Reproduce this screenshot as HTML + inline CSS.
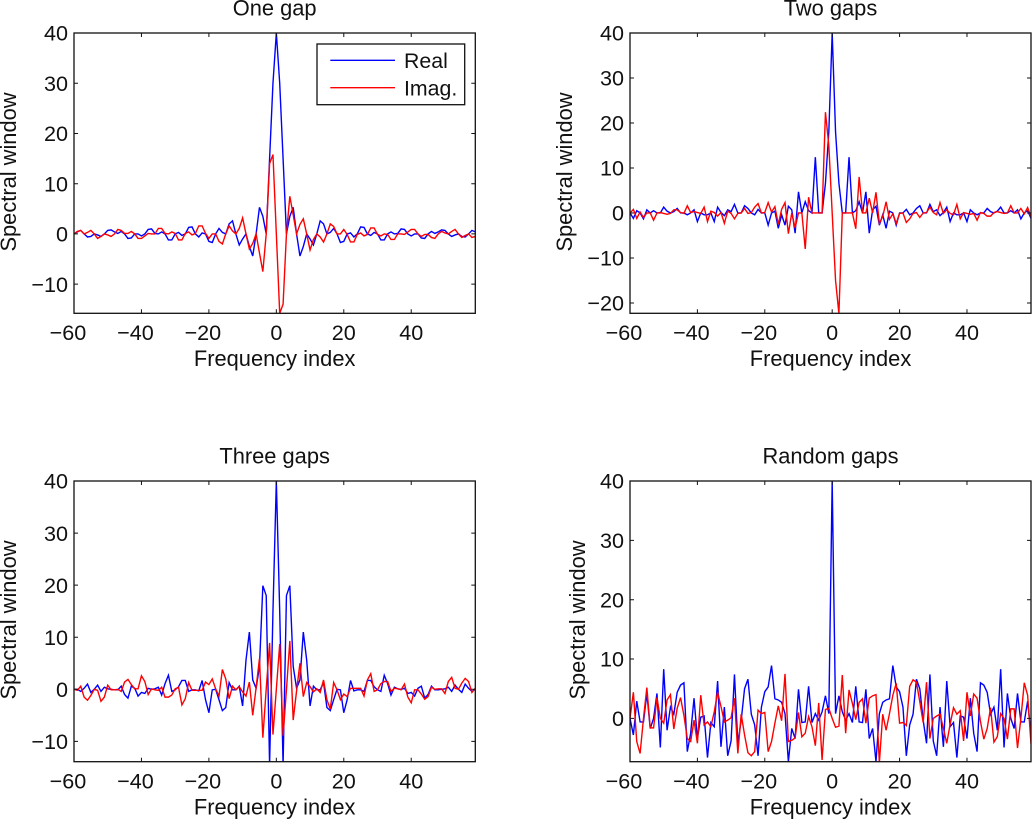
<!DOCTYPE html>
<html lang="en">
<head>
<meta charset="utf-8">
<title>Spectral window charts</title>
<style>
html,body{margin:0;padding:0;background:#fff;}
#chart{display:block;width:1032px;height:819px;overflow:hidden;}
text{font-family:"Liberation Sans",Arial,sans-serif;font-size:21.6px;fill:#111;}
text.axis-title{font-size:21.85px;}
text.legend-text{font-size:21.3px;}
</style>
</head>
<body>
<svg id="chart" xmlns="http://www.w3.org/2000/svg" width="1032" height="819" viewBox="0 0 1032 819"></svg>
<script>
var xTickValues = [-60,-40,-20,0,20,40];
var yTicksOne = [-10,0,10,20,30,40];
var yTicksTwo = [-20,-10,0,10,20,30,40];
var yTicksThree = [-10,0,10,20,30,40];
var yTicksRandom = [0,10,20,30,40];

var realOne = [0,.4,.7,0,-.6,-.5,0,-.2,-.5,0,.7,.8,.4,.1,.5,0,-.9,-.8,0,0,-.4,0,.9,1,.1,0,.4,0,-1.2,-1.2,0,.3,-.3,0,1.3,1.4,0,-.6,.2,0,-1.5,-1.7,0,1.1,.3,0,2,2.6,0,-2.2,-1,0,-2.5,-4.4,0,5.3,3.5,0,15,30,40,30,15,0,3.5,5.3,0,-4.4,-2.5,0,-1,-2.2,0,2.6,2,0,.3,1.1,0,-1.7,-1.5,0,.2,-.6,0,1.4,1.3,0,-.3,.3,0,-1.2,-1.2,0,.4,0,.1,1,.9,0,-.4,0,0,-.8,-.9,0,.5,.1,.4,.8,.7,0,-.5,-.2,0,-.5,-.6,0,.7,.4];
var imagOne = [0,.5,.7,0,.3,.7,0,-.9,-.5,0,-.2,-.5,0,.9,.7,.1,.1,.5,0,-.9,-.9,-.4,.1,0,0,1.1,1.1,.1,0,.4,.1,-1.2,-1.2,.1,.4,-.2,.1,1.6,1.6,.1,-.9,0,0,-1.5,-2,0,1.6,.6,0,1.1,3.2,0,-3,-1.9,0,-3.8,-7.5,0,14,15.8,0,-15.8,-14,0,7.5,3.8,0,1.9,3,0,-3.2,-1.1,0,-.6,-1.6,0,2,1.5,0,0,.9,-.1,-1.6,-1.6,-.1,.2,-.4,-.1,1.2,1.2,-.1,-.4,0,-.1,-1.1,-1.1,0,0,-.1,.4,.9,.9,0,-.5,-.1,-.1,-.7,-.9,0,.5,.2,0,.5,.9,0,-.7,-.3,0,-.7,-.5];

var realTwo = [0,-1.2,.5,0,-1.3,.7,0,.5,0,0,1.3,.4,0,.3,1,0,0,-.4,0,.7,-1.9,0,-.4,-.4,0,-1.9,1.3,.1,-.6,.7,.3,1.9,0,0,1.6,1,0,-.4,.8,0,0,-2.7,0,.4,-3.4,-.4,-2.7,1.5,.7,-4.5,4.7,0,2.5,.5,0,12.4,0,0,6.6,18,40,18,6.6,0,0,12.4,0,.5,2.5,0,4.7,-4.5,.7,1.5,-2.7,-.4,-3.4,.4,0,-2.7,0,0,.8,-.4,0,1,1.6,0,0,1.9,.3,.7,-.6,.1,1.3,-1.9,0,-.4,-.4,0,-1.9,.7,0,-.4,0,0,1,.3,0,.4,1.3,0,0,.5,0,.7,-1.3,0,.5,-1.2];
var imagTwo = [0,.8,-1.2,.2,-1,0,0,-1.6,0,.1,-.1,-.3,-.1,.7,.7,.1,-.1,1.6,.1,.3,.1,-.1,1.3,-1.9,.4,.1,-.7,.1,-2.3,.4,-.1,-1.3,-.1,0,1,-.1,.1,1.3,2.1,0,.1,2.3,.2,1.4,-2.5,.8,2.3,-4.6,0,-3.3,0,0,-8,3.5,0,0,0,0,22.4,15,0,-15,-22.4,0,0,0,0,-3.5,8,0,0,3.3,0,4.6,-2.3,-.8,2.5,-1.4,-.2,-2.3,-.1,0,-2.1,-1.3,-.1,.1,-1,0,.1,1.3,.1,-.4,2.3,-.1,.7,-.1,-.4,1.9,-1.3,.1,-.1,-.3,-.1,-1.6,.1,-.1,-.7,-.7,.1,.3,.1,-.1,0,1.6,0,0,1,-.2,1.2,-.8];

var realThree = [0,0,-.4,.2,1,-.6,0,.8,-.4,.4,.1,0,-.1,-.1,.6,-1,-1.7,.6,.2,-1.3,-.6,-.8,.2,0,.1,.4,-1.1,1.1,2.7,-.4,-.1,.5,1.7,1.7,-.4,-.1,-.1,-.3,1.7,-2,-4.5,-.1,0,-2,-4.1,-3.5,1.3,-.1,-.1,.6,-3.2,5.6,11,1.8,.2,4.4,19.9,18,-14.5,15,40,15,-14.5,18,19.9,4.4,.2,1.8,11,5.6,-3.2,.6,-.1,-.1,1.3,-3.5,-4.1,-2,0,-.1,-4.5,-2,1.7,-.3,-.1,-.1,-.4,1.7,1.7,.5,-.1,-.4,2.7,1.1,-1.1,.4,.1,0,.2,-.8,-.6,-1.3,.2,.6,-1.7,-1,.6,-.1,-.1,0,.1,.4,-.4,.8,0,-.6,1,.2,-.4,0];
var imagThree = [0,-.2,.6,-1.5,-2.1,-1.2,0,-.2,-2.3,-1.5,.8,-.1,-.1,0,-.4,1.4,1.9,.9,.1,.1,2.6,1.5,-1,.1,-.1,-.2,.4,-1.5,-1.5,-1.1,.1,.4,-3,-1.8,1.3,-.2,-.2,-.2,-.2,1.4,.9,2,.1,-1.3,3.8,2,-1.8,.6,-.1,.5,-.5,-1.3,1.4,-5,.3,5.9,-9.3,.1,8.9,-8.7,0,8.7,-8.9,-.1,9.3,-5.9,-.3,5,-1.4,1.3,.5,-.5,.1,-.6,1.8,-2,-3.8,1.3,-.1,-2,-.9,-1.4,.2,.2,.2,.2,-1.3,1.8,3,-.4,-.1,1.1,1.5,1.5,-.4,.2,.1,-.1,1,-1.5,-2.6,-.1,-.1,-.9,-1.9,-1.4,.4,0,.1,.1,-.8,1.5,2.3,.2,0,1.2,2.1,1.5,-.6,.2];

var realRandom = [0,-2.8,2.9,-.6,-.6,4.2,-1.7,0,4.2,-4.9,8.3,-2,1.9,.7,4.4,5.6,6,-5.6,-2.5,3.4,-3.4,.2,.4,-6.6,-.7,-1.4,6.3,-4.8,1.9,-6.3,-3.8,7.4,-4.2,-.3,5,6.6,.7,-1.1,-6.3,1.9,4.5,5.3,8.9,3.3,3.1,2.7,.8,-7.3,-1.7,-3.4,4.9,-.7,-.6,5.4,-.7,.8,-.3,1.1,3.8,.8,40,.8,3.8,1.1,-.3,.8,-.7,5.4,-.6,-.7,4.9,-3.4,-1.7,-7.3,.8,2.7,3.1,3.3,8.9,5.3,4.5,1.9,-6.3,-1.1,.7,6.6,5,-.3,-4.2,7.4,-3.8,-6.3,1.9,-4.8,6.3,-1.4,-.7,-6.6,.4,.2,-3.4,3.4,-2.5,-5.6,6,5.6,4.4,.7,1.9,-2,8.3,-4.9,4.2,0,-1.7,4.2,-.6,-.6,2.9,-2.8];
var imagRandom = [0,4.4,-3.9,-5.9,0,5.2,-1.6,-1.6,3.5,0,-.8,3.1,4,-1.8,1.7,3.5,.5,-3.4,-3.9,-.3,-4.2,3.9,-1.1,-.6,-1.4,1.1,4.4,2,-.6,-.3,.1,3.4,-5.9,.7,-2.8,-5.8,-6.3,-5.6,1.4,.8,1,-5.6,-3.9,-.8,2.1,-.4,7.5,-3.9,-3.7,-3.3,1,-3.1,-2.5,.3,-1.4,-4.6,2.6,-7,1.5,1.7,0,-1.5,-1.3,7.3,-2.5,4.8,2.5,-.2,2.7,3.3,-.8,3.4,3.8,4,-7.5,.7,-2,.8,3.9,5.9,-.8,-.7,-1.2,5.4,6.5,6.1,2.8,-.7,6.1,-3.4,0,.4,.7,-1.7,-4.2,-1,1.8,.7,1.3,-3.8,4.4,.4,4.1,3.4,-.5,-3.5,-1.7,1.8,-4,-3.1,.8,0,-3.5,1.6,1.6,-5,0,6,3.9,-4.3];

var panels = [
  {key:'one-gap', title:'One gap', real:realOne, imag:imagOne, yTicks:yTicksOne, left:74, right:475.3, top:33, bottom:313.3, yMin:-15.8, labelX:16, labelY:172},
  {key:'two-gaps', title:'Two gaps', real:realTwo, imag:imagTwo, yTicks:yTicksTwo, left:630, right:1031, top:33, bottom:313.3, yMin:-22.3, labelX:572, labelY:172},
  {key:'three-gaps', title:'Three gaps', real:realThree, imag:imagThree, yTicks:yTicksThree, left:74, right:475.3, top:481, bottom:761.7, yMin:-13.9, labelX:16, labelY:620},
  {key:'random-gaps', title:'Random gaps', real:realRandom, imag:imagRandom, yTicks:yTicksRandom, left:630, right:1031, top:481, bottom:761.7, yMin:-7.3, labelX:585, labelY:620}
];

var svg = document.getElementById('chart');
var NS = 'http://www.w3.org/2000/svg';

function make(tag, attrs, parent) {
  var el = document.createElementNS(NS, tag);
  for (var k in attrs) { el.setAttribute(k, attrs[k]); }
  (parent || svg).appendChild(el);
  return el;
}

function formatTick(v) {
  return v < 0 ? '\u2212' + Math.abs(v) : String(v);
}

function drawPanel(p, idx) {
  var group = make('g', {});
  
  

  var xScale = function (v) { return p.left + (v + 60) / 119 * (p.right - p.left); };
  var yScale = function (v) { return p.bottom - (v - p.yMin) / (40 - p.yMin) * (p.bottom - p.top); };

  var defs = make('defs', {}, group);
  var clip = make('clipPath', {id: 'clip-' + idx}, defs);
  make('rect', {x: p.left, y: p.top, width: p.right - p.left, height: p.bottom - p.top}, clip);

  var title = make('text', {x: (p.left + p.right) / 2, y: p.top - 17.3, 'text-anchor': 'middle', 'class': 'axis-title'}, group);
  
  
  title.textContent = p.title;

  var xTitle = make('text', {x: (p.left + p.right) / 2, y: p.bottom + 52.7, 'text-anchor': 'middle', 'class': 'axis-title'}, group);
  
  
  xTitle.textContent = 'Frequency index';

  var yTitle = make('text', {x: p.labelX, y: p.labelY, 'text-anchor': 'middle', 'class': 'axis-title', transform: 'rotate(-90 ' + p.labelX + ' ' + p.labelY + ')'}, group);
  
  
  yTitle.textContent = 'Spectral window';

  [['real', p.real, '#0000ff'], ['imag', p.imag, '#ff0000']].forEach(function (s) {
    var pts = s[1].map(function (v, i) {
      return xScale(i - 60).toFixed(2) + ',' + yScale(v).toFixed(2);
    }).join(' ');
    var line = make('polyline', {points: pts, fill: 'none', stroke: s[2], 'stroke-width': 1.4, 'stroke-linejoin': 'miter', 'clip-path': 'url(#clip-' + idx + ')'}, group);
    
    
  });

  var box = make('rect', {x: p.left, y: p.top, width: p.right - p.left, height: p.bottom - p.top, fill: 'none', stroke: '#111', 'stroke-width': 1.3}, group);
  
  

  xTickValues.forEach(function (v) {
    var x = xScale(v);
    var tick = make('path', {d: 'M' + x + ' ' + p.bottom + 'v-4M' + x + ' ' + p.top + 'v4', stroke: '#111', 'stroke-width': 1, fill: 'none'}, group);
    
    
    var label = make('text', {x: v < 0 ? x - 6 : x, y: p.bottom + 26.7, 'text-anchor': 'middle'}, group);
    
    
    label.textContent = formatTick(v);
  });

  p.yTicks.forEach(function (v) {
    var y = yScale(v);
    var tick = make('path', {d: 'M' + p.left + ' ' + y + 'h4M' + p.right + ' ' + y + 'h-4', stroke: '#111', 'stroke-width': 1, fill: 'none'}, group);
    
    
    var label = make('text', {x: p.left - 6, y: y + 7.7, 'text-anchor': 'end'}, group);
    
    
    label.textContent = formatTick(v);
  });
}

panels.forEach(drawPanel);

var legend = make('g', {});


var legendBox = make('rect', {x: 317, y: 44, width: 147.7, height: 60.7, fill: '#fff', stroke: '#111', 'stroke-width': 1.3}, legend);


var legendEntries = [['Real', '#0000ff', 60.3, 68], ['Imag.', '#ff0000', 87.7, 95.7]];
legendEntries.forEach(function (e) {
  var swatch = make('line', {x1: 330.3, x2: 395, y1: e[2], y2: e[2], stroke: e[1], 'stroke-width': 1.4}, legend);
  
  
  var text = make('text', {x: 404, y: e[3], 'class': 'legend-text'}, legend);
  
  
  text.textContent = e[0];
});
</script>
</body>
</html>
